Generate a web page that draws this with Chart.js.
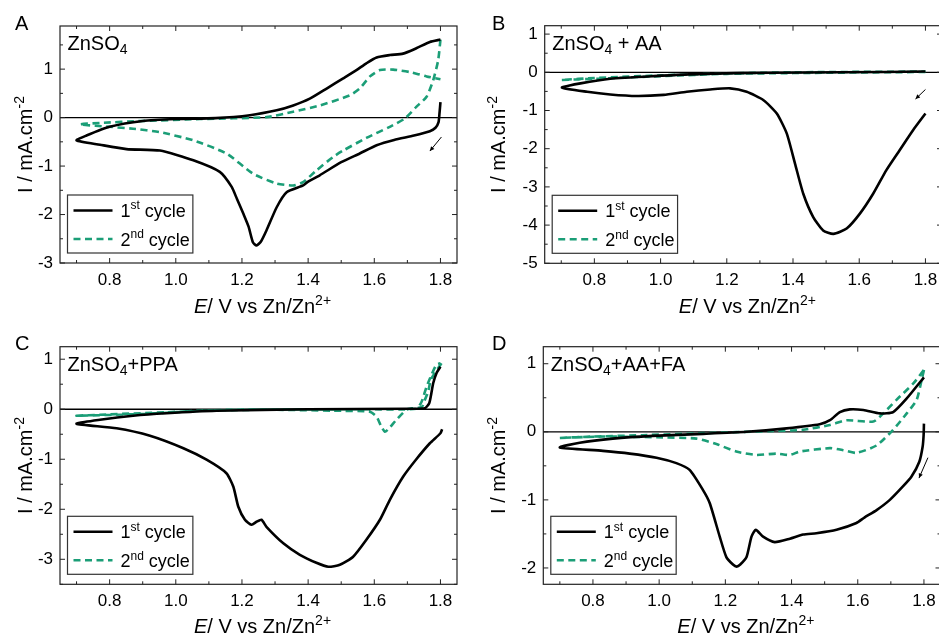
<!DOCTYPE html>
<html>
<head>
<meta charset="utf-8">
<script src="https://cdn.jsdelivr.net/npm/chart.js@4.4.0/dist/chart.umd.min.js"></script>
<style>
  html, body { margin: 0; padding: 0; background: #fff; overflow: hidden; }
  #fig { position: relative; width: 939px; height: 640px; overflow: hidden; background: #fff; }
  .panel { position: absolute; }
</style>
</head>
<body>
<div id="fig">
  <div class="panel" style="left:0;top:0"><canvas id="cA" width="470" height="320"></canvas></div>
  <div class="panel" style="left:470px;top:0"><canvas id="cB" width="475" height="320"></canvas></div>
  <div class="panel" style="left:0;top:320px"><canvas id="cC" width="470" height="320"></canvas></div>
  <div class="panel" style="left:470px;top:320px"><canvas id="cD" width="475" height="320"></canvas></div>
</div>
<script>
// tick values
const xTicks = [0.8, 1.0, 1.2, 1.4, 1.6, 1.8];
const xMinor = [0.7, 0.9, 1.1, 1.3, 1.5, 1.7];
const yTicksA = [-3, -2, -1, 0, 1];
const yMinorA = [-2.5, -1.5, -0.5, 0.5, 1.5];
const yTicksB = [-5, -4, -3, -2, -1, 0, 1];
const yMinorB = [-4.5, -3.5, -2.5, -1.5, -0.5, 0.5];
const yTicksC = [-3, -2, -1, 0, 1];
const yMinorC = [-3.5, -2.5, -1.5, -0.5, 0.5];
const yTicksD = [-2, -1, 0, 1];
const yMinorD = [-1.5, -0.5, 0.5];

// A: ZnSO4
const aCycle1E = [1.80, 1.797, 1.794, 1.785, 1.768, 1.72, 1.66, 1.607, 1.556, 1.50, 1.435, 1.40, 1.385, 1.335, 1.305, 1.274, 1.258, 1.244, 1.233, 1.22, 1.204, 1.185, 1.169, 1.133, 1.053, 0.952, 0.851, 0.771, 0.70,
  0.73, 0.80, 0.90, 1.00, 1.12, 1.224, 1.305, 1.355, 1.405, 1.456, 1.506, 1.546, 1.576, 1.607, 1.647, 1.687, 1.727, 1.768, 1.80];
const aCycle1I = [0.32, 0.08, -0.1, -0.21, -0.28, -0.37, -0.46, -0.57, -0.74, -0.92, -1.19, -1.32, -1.40, -1.54, -1.85, -2.33, -2.55, -2.64, -2.57, -2.25, -1.98, -1.68, -1.43, -1.12, -0.88, -0.68, -0.65, -0.56, -0.47,
  -0.37, -0.19, -0.07, -0.03, -0.01, 0.05, 0.15, 0.25, 0.39, 0.60, 0.81, 0.98, 1.12, 1.24, 1.29, 1.32, 1.43, 1.56, 1.61];
const aCycle2E = [1.80, 1.793, 1.778, 1.758, 1.727, 1.692, 1.647, 1.576, 1.506, 1.476, 1.425, 1.385, 1.355, 1.305, 1.234, 1.153, 1.053, 0.952, 0.871, 0.80, 0.71,
  0.771, 0.90, 1.073, 1.274, 1.355, 1.435, 1.526, 1.556, 1.587, 1.617, 1.657, 1.707, 1.758, 1.80];
const aCycle2I = [1.61, 1.18, 0.77, 0.43, 0.22, -0.02, -0.19, -0.42, -0.68, -0.81, -1.09, -1.33, -1.40, -1.36, -1.16, -0.74, -0.47, -0.30, -0.23, -0.19, -0.14,
  -0.11, -0.07, -0.03, 0.01, 0.12, 0.25, 0.46, 0.60, 0.85, 0.98, 0.99, 0.94, 0.85, 0.79];
const aArrow = [1.803, -0.40, 1.768, -0.69];

// B: ZnSO4 + AA
const bCycle1E = [1.80, 1.763, 1.722, 1.682, 1.642, 1.602, 1.562, 1.522, 1.491, 1.461, 1.431, 1.406, 1.381, 1.351, 1.311, 1.260, 1.210, 1.150, 1.079, 1.009, 0.929, 0.848, 0.778, 0.702,
  0.758, 0.848, 0.979, 1.13, 1.33, 1.55, 1.80];
const bCycle1I = [-1.08, -1.51, -2.04, -2.56, -3.18, -3.70, -4.09, -4.23, -4.14, -3.79, -3.18, -2.39, -1.60, -1.08, -0.73, -0.51, -0.42, -0.45, -0.51, -0.59, -0.62, -0.58, -0.51, -0.40,
  -0.29, -0.17, -0.10, -0.04, -0.01, 0.0, 0.02];
const bCycle2E = [1.80, 1.40, 1.20, 1.00, 0.80, 0.70, 0.80, 1.00, 1.20, 1.40, 1.80];
const bCycle2I = [0.01, -0.02, -0.04, -0.10, -0.17, -0.20, -0.15, -0.08, -0.03, 0.0, 0.02];
const bArrow = [1.80, -0.45, 1.77, -0.70];

// C: ZnSO4+PPA
const cCycle1E = [1.805, 1.80, 1.768, 1.727, 1.687, 1.647, 1.617, 1.576, 1.536, 1.496, 1.461, 1.425, 1.375, 1.325, 1.274, 1.259, 1.244, 1.229, 1.209, 1.189, 1.174, 1.153, 1.093, 1.023, 0.922, 0.821, 0.70,
  0.771, 0.871, 0.972, 1.123, 1.40, 1.70, 1.753, 1.766, 1.772, 1.778, 1.788, 1.80];
const cCycle1I = [-0.40, -0.48, -0.68, -1.00, -1.35, -1.81, -2.21, -2.61, -2.95, -3.11, -3.15, -3.07, -2.91, -2.68, -2.35, -2.21, -2.25, -2.31, -2.21, -1.95, -1.55, -1.28, -1.01, -0.78, -0.53, -0.38, -0.29,
  -0.21, -0.13, -0.08, -0.03, 0.0, 0.01, 0.02, 0.12, 0.30, 0.52, 0.72, 0.85];
const cCycle2E = [1.803, 1.771, 1.763, 1.753, 1.743, 1.70, 1.667, 1.645, 1.632, 1.62, 1.607, 1.586, 1.476, 1.274, 1.073, 0.972, 0.871, 0.70,
  0.771, 0.972, 1.173, 1.576, 1.727, 1.743, 1.758, 1.773, 1.788, 1.80];
const cCycle2I = [0.92, 0.59, 0.35, 0.19, 0.04, 0.0, -0.21, -0.38, -0.45, -0.33, -0.15, -0.05, -0.03, -0.01, -0.03, -0.07, -0.10, -0.13,
  -0.11, -0.06, -0.01, 0.0, 0.01, 0.15, 0.45, 0.69, 0.89, 0.92];

// D: ZnSO4+AA+FA
const dCycle1E = [1.80, 1.799, 1.796, 1.786, 1.762, 1.735, 1.697, 1.657, 1.62, 1.596, 1.536, 1.475, 1.435, 1.395, 1.349, 1.314, 1.292, 1.279, 1.264, 1.245, 1.234, 1.223, 1.203, 1.183, 1.153, 1.133, 1.092, 1.052, 0.992, 0.911, 0.830, 0.70,
  0.76, 0.86, 0.98, 1.133, 1.264, 1.385, 1.485, 1.516, 1.546, 1.576, 1.617, 1.667, 1.707, 1.748, 1.80];
const dCycle1I = [0.12, -0.05, -0.22, -0.44, -0.66, -0.81, -1.00, -1.15, -1.26, -1.34, -1.44, -1.49, -1.51, -1.57, -1.62, -1.54, -1.44, -1.54, -1.84, -1.95, -1.98, -1.95, -1.84, -1.54, -1.05, -0.86, -0.56, -0.46, -0.38, -0.32, -0.28, -0.23,
  -0.16, -0.10, -0.06, -0.03, 0.0, 0.05, 0.11, 0.17, 0.29, 0.33, 0.32, 0.27, 0.29, 0.49, 0.80];
const dCycle2E = [1.80, 1.793, 1.778, 1.748, 1.707, 1.657, 1.596, 1.556, 1.516, 1.425, 1.395, 1.354, 1.294, 1.233, 1.173, 1.113, 0.992, 0.83, 0.70,
  0.80, 0.95, 1.133, 1.334, 1.435, 1.516, 1.566, 1.647, 1.677, 1.717, 1.768, 1.80];
const dCycle2I = [0.91, 0.76, 0.47, 0.27, 0.03, -0.20, -0.31, -0.27, -0.24, -0.29, -0.34, -0.32, -0.34, -0.29, -0.18, -0.10, -0.08, -0.07, -0.09,
  -0.07, -0.05, -0.02, 0.01, 0.03, 0.10, 0.17, 0.15, 0.27, 0.47, 0.71, 0.91];
const dArrow = [1.812, -0.38, 1.785, -0.68];

const FONT = '"Liberation Sans", Arial, Helvetica, sans-serif';
const GREEN = '#1b9e77';

function pts(xs, ys) {
  return xs.map((v, i) => ({ x: v, y: ys[i] }));
}

// parts: [text, kind] kind: '' normal, 'sup', 'sub', 'i' italic
function richText(ctx, parts, x, y, size, align) {
  const fontFor = (k) => {
    const s = (k === 'sup' || k === 'sub') ? Math.round(size * 0.68) : size;
    return (k === 'i' ? 'italic ' : '') + s + 'px ' + FONT;
  };
  let w = 0;
  parts.forEach(([t, k]) => { ctx.font = fontFor(k); w += ctx.measureText(t).width; });
  let cx = align === 'center' ? x - w / 2 : x;
  ctx.textBaseline = 'alphabetic';
  ctx.textAlign = 'left';
  parts.forEach(([t, k]) => {
    ctx.font = fontFor(k);
    let dy = 0;
    if (k === 'sup') dy = -size * 0.42;
    if (k === 'sub') dy = size * 0.22;
    ctx.fillText(t, cx, y + dy);
    cx += ctx.measureText(t).width;
  });
  return w;
}

function makePlugin(p) {
  return {
    id: 'cvDecor' + p.letter,
    beforeDatasetsDraw(chart) {
      const { ctx, chartArea: a, scales: { y } } = chart;
      const y0 = y.getPixelForValue(0);
      ctx.save();
      ctx.strokeStyle = '#000';
      ctx.lineWidth = 1.3;
      ctx.beginPath();
      ctx.moveTo(a.left, y0);
      ctx.lineTo(a.right, y0);
      ctx.stroke();
      ctx.restore();
    },
    afterDraw(chart) {
      const { ctx, chartArea: a, scales: { x, y } } = chart;
      ctx.save();
      ctx.strokeStyle = '#222';
      ctx.lineWidth = 1.2;
      ctx.strokeRect(a.left, a.top, a.right - a.left, a.bottom - a.top);

      // inward ticks on all sides
      const seg = (x1, y1, x2, y2) => { ctx.beginPath(); ctx.moveTo(x1, y1); ctx.lineTo(x2, y2); ctx.stroke(); };
      ctx.lineWidth = 1;
      xTicks.forEach(v => { const px = x.getPixelForValue(v); seg(px, a.bottom, px, a.bottom - 5); seg(px, a.top, px, a.top + 5); });
      xMinor.forEach(v => { const px = x.getPixelForValue(v); seg(px, a.bottom, px, a.bottom - 3); seg(px, a.top, px, a.top + 3); });
      p.yTicks.forEach(v => { const py = y.getPixelForValue(v); seg(a.left, py, a.left + 5, py); seg(a.right, py, a.right - 5, py); });
      p.yMinor.forEach(v => { const py = y.getPixelForValue(v); seg(a.left, py, a.left + 3, py); seg(a.right, py, a.right - 3, py); });

      // arrow
      if (p.arrow) {
        const [e1, i1, e2, i2] = p.arrow;
        const x1 = x.getPixelForValue(e1), y1 = y.getPixelForValue(i1);
        const x2 = x.getPixelForValue(e2), y2 = y.getPixelForValue(i2);
        ctx.strokeStyle = '#000';
        ctx.fillStyle = '#000';
        ctx.lineWidth = 1;
        seg(x1, y1, x2, y2);
        const ang = Math.atan2(y2 - y1, x2 - x1);
        ctx.beginPath();
        ctx.moveTo(x2, y2);
        ctx.lineTo(x2 - 5 * Math.cos(ang - 0.45), y2 - 5 * Math.sin(ang - 0.45));
        ctx.lineTo(x2 - 5 * Math.cos(ang + 0.45), y2 - 5 * Math.sin(ang + 0.45));
        ctx.closePath();
        ctx.fill();
      }

      ctx.fillStyle = '#000';
      // panel letter
      ctx.font = '20px ' + FONT;
      ctx.textAlign = 'left';
      ctx.fillText(p.letter, p.letterX, 30);
      // electrolyte label
      richText(ctx, p.label, a.left + 7.5, a.top + 24, 20, 'left');
      // axis titles
      richText(ctx, [['E', 'i'], ['/ V vs Zn/Zn', ''], ['2+', 'sup']], (a.left + a.right) / 2 + 4, 313, 20, 'center');
      ctx.save();
      ctx.translate(p.yTitleX, (a.top + a.bottom) / 2);
      ctx.rotate(-Math.PI / 2);
      richText(ctx, [['I / mA.cm', ''], ['-2', 'sup']], 0, 7, 20, 'center');
      ctx.restore();

      // legend
      const row1 = [['1', ''], ['st', 'sup'], [' cycle', '']];
      const row2 = [['2', ''], ['nd', 'sup'], [' cycle', '']];
      const bx = a.left + 7.5, bh = 58, by = a.bottom - 10 - bh;
      ctx.font = '18px ' + FONT;
      const tw = Math.max(...[row1, row2].map(r => r.reduce((s, [t, k]) => {
        ctx.font = (k === 'sup' ? Math.round(18 * 0.68) : 18) + 'px ' + FONT;
        return s + ctx.measureText(t).width;
      }, 0)));
      const bw = 54 + tw + 2;
      ctx.fillStyle = '#fff';
      ctx.fillRect(bx, by, bw, bh);
      ctx.strokeStyle = '#333';
      ctx.lineWidth = 1.2;
      ctx.strokeRect(bx, by, bw, bh);
      ctx.lineWidth = 2.6;
      ctx.strokeStyle = '#000';
      seg(bx + 6, by + 15.5, bx + 45, by + 15.5);
      ctx.strokeStyle = GREEN;
      ctx.setLineDash([7, 4.5]);
      seg(bx + 6, by + 44, bx + 45, by + 44);
      ctx.setLineDash([]);
      ctx.fillStyle = '#000';
      richText(ctx, row1, bx + 53, by + 22, 18, 'left');
      richText(ctx, row2, bx + 53, by + 51, 18, 'left');
      ctx.restore();
    }
  };
}

function makeChart(p) {
  const canvas = document.getElementById(p.id);
  const W = canvas.width, H = canvas.height;
  new Chart(canvas, {
    type: 'scatter',
    data: {
      datasets: [
        { label: '1st cycle', data: pts(p.c1E, p.c1I), showLine: true, borderColor: '#000', borderWidth: 2.6, pointRadius: 0, tension: 0.2 },
        { label: '2nd cycle', data: pts(p.c2E, p.c2I), showLine: true, borderColor: GREEN, borderWidth: 2.6, borderDash: [7, 4.5], pointRadius: 0, tension: 0.2 }
      ]
    },
    options: {
      responsive: false,
      animation: false,
      layout: { padding: { left: 0, top: p.area.top, right: W - p.area.right, bottom: 0 } },
      plugins: { legend: { display: false }, tooltip: { enabled: false } },
      scales: {
        x: {
          type: 'linear', min: 0.65, max: 1.85,
          afterBuildTicks: s => { s.ticks = xTicks.map(v => ({ value: v })); },
          afterFit: s => { s.height = H - p.area.bottom; },
          grid: { display: true, drawOnChartArea: false, drawTicks: false },
          border: { display: false },
          ticks: { color: '#000', padding: 7, font: { family: FONT, size: 17 }, callback: v => v.toFixed(1), maxRotation: 0, autoSkip: false }
        },
        y: {
          type: 'linear', min: p.yMin, max: p.yMax,
          afterBuildTicks: s => { s.ticks = p.yTicks.map(v => ({ value: v })); },
          afterFit: s => { s.width = p.area.left; },
          grid: { display: true, drawOnChartArea: false, drawTicks: false },
          border: { display: false },
          ticks: { color: '#000', padding: 7, font: { family: FONT, size: 17 }, callback: v => String(v), autoSkip: false }
        }
      }
    },
    plugins: [makePlugin(p)]
  });
}

makeChart({ id: 'cA', letter: 'A', letterX: 15, yTitleX: 25, area: { left: 60, right: 457, top: 26, bottom: 263 },
  yMin: -3, yMax: 1.89, yTicks: yTicksA, yMinor: yMinorA, arrow: aArrow,
  label: [['ZnSO', ''], ['4', 'sub']], c1E: aCycle1E, c1I: aCycle1I, c2E: aCycle2E, c2I: aCycle2I });
makeChart({ id: 'cB', letter: 'B', letterX: 22, yTitleX: 28, area: { left: 74.7, right: 472, top: 25.7, bottom: 263.3 },
  yMin: -5, yMax: 1.22, yTicks: yTicksB, yMinor: yMinorB, arrow: bArrow,
  label: [['ZnSO', ''], ['4', 'sub'], [' + AA', '']], c1E: bCycle1E, c1I: bCycle1I, c2E: bCycle2E, c2I: bCycle2I });
makeChart({ id: 'cC', letter: 'C', letterX: 15, yTitleX: 25, area: { left: 60, right: 457, top: 26.7, bottom: 264.3 },
  yMin: -3.5, yMax: 1.25, yTicks: yTicksC, yMinor: yMinorC, arrow: null,
  label: [['ZnSO', ''], ['4', 'sub'], ['+PPA', '']], c1E: cCycle1E, c1I: cCycle1I, c2E: cCycle2E, c2I: cCycle2I });
makeChart({ id: 'cD', letter: 'D', letterX: 22, yTitleX: 28, area: { left: 73.3, right: 470.5, top: 26.7, bottom: 264.3 },
  yMin: -2.24, yMax: 1.25, yTicks: yTicksD, yMinor: yMinorD, arrow: dArrow,
  label: [['ZnSO', ''], ['4', 'sub'], ['+AA+FA', '']], c1E: dCycle1E, c1I: dCycle1I, c2E: dCycle2E, c2I: dCycle2I });
</script>
</body>
</html>
